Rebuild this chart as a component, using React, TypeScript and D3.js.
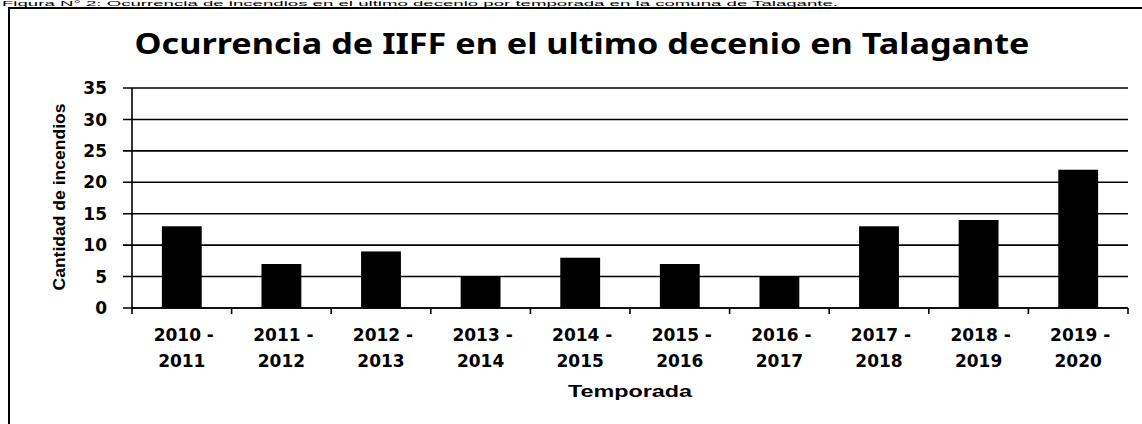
import React from "react";
import * as d3 from "d3";

const categories = ["2010 - 2011","2011 - 2012","2012 - 2013","2013 - 2014","2014 - 2015","2015 - 2016","2016 - 2017","2017 - 2018","2018 - 2019","2019 - 2020"];
const values = [13, 7, 9, 5, 8, 7, 5, 13, 14, 22];
const yTicks = [0, 5, 10, 15, 20, 25, 30, 35];
const title = "Ocurrencia de IIFF en el ultimo decenio en Talagante";
const caption = "Figura N° 2: Ocurrencia de incendios en el ultimo decenio por temporada en la comuna de Talagante.";
const yTitle = "Cantidad de incendios";
const xTitle = "Temporada";

export default function App() {
  const W = 1142, H = 424;
  const left = 132, right = 1128, top = 88, bottom = 308;
  const x = d3.scaleBand<string>().domain(categories).range([left, right]).paddingInner(0.6).paddingOuter(0.3);
  const y = d3.scaleLinear().domain([0, 35]).range([bottom, top]);
  const step = x.step();
  const tickFont = "'DejaVu Sans', Verdana, sans-serif";
  return (
    <svg width={W} height={H} style={{ position: "absolute", left: 0, top: 0, background: "#fff" }}>
      <rect x={0} y={0} width={W} height={H} fill="#fff" />
      <text x={2} y={6} fontFamily="'Liberation Sans', Arial, sans-serif" fontSize={8} textLength={836} lengthAdjust="spacingAndGlyphs" fill="#000">{caption}</text>
      <path d={`M9,${H} V8 H${W}`} fill="none" stroke="#000" strokeWidth={2} />
      <text x={582} y={54} textAnchor="middle" fontFamily="'Noto Sans', 'Open Sans', sans-serif" fontWeight={700} fontSize={28} textLength={895} lengthAdjust="spacingAndGlyphs" fill="#000">{title}</text>
      {yTicks.map(t => (
        <g key={t}>
          <line x1={left - 9} x2={right} y1={y(t)} y2={y(t)} stroke="#000" strokeWidth={1.6} />
          <text x={107} y={y(t)} dy="0.36em" textAnchor="end" fontFamily={tickFont} fontWeight={700} fontSize={17} fill="#000">{t}</text>
        </g>
      ))}
      <line x1={left} x2={left} y1={top} y2={bottom} stroke="#000" strokeWidth={1.6} />
      <line x1={left} x2={right} y1={bottom} y2={bottom} stroke="#000" strokeWidth={1.6} />
      {d3.range(categories.length + 1).map(i => (
        <line key={i} x1={left + i * step} x2={left + i * step} y1={bottom} y2={bottom + 6} stroke="#000" strokeWidth={1.6} />
      ))}
      {categories.map((c, i) => (
        <rect key={c} x={x(c)} y={y(values[i])} width={x.bandwidth()} height={y(0) - y(values[i])} fill="#000" />
      ))}
      {categories.map(c => {
        const [a, b] = c.split(" - ");
        const cx = (x(c) as number) + x.bandwidth() / 2;
        return (
          <g key={c + "l"} fontFamily={tickFont} fontWeight={700} fontSize={17} fill="#000" textAnchor="middle">
            <text x={cx + 2} y={341}>{a + " -"}</text>
            <text x={cx} y={367}>{b}</text>
          </g>
        );
      })}
      <text x={630} y={397} textAnchor="middle" fontFamily="'Liberation Sans Narrow', 'Liberation Sans', Arial, sans-serif" fontWeight={700} fontSize={16} textLength={124} lengthAdjust="spacingAndGlyphs" fill="#000">{xTitle}</text>
      <text transform={`translate(65,197) rotate(-90)`} textAnchor="middle" fontFamily="'Liberation Sans Narrow', 'Liberation Sans', Arial, sans-serif" fontWeight={700} fontSize={17} textLength={187} lengthAdjust="spacingAndGlyphs" fill="#000">{yTitle}</text>
    </svg>
  );
}
